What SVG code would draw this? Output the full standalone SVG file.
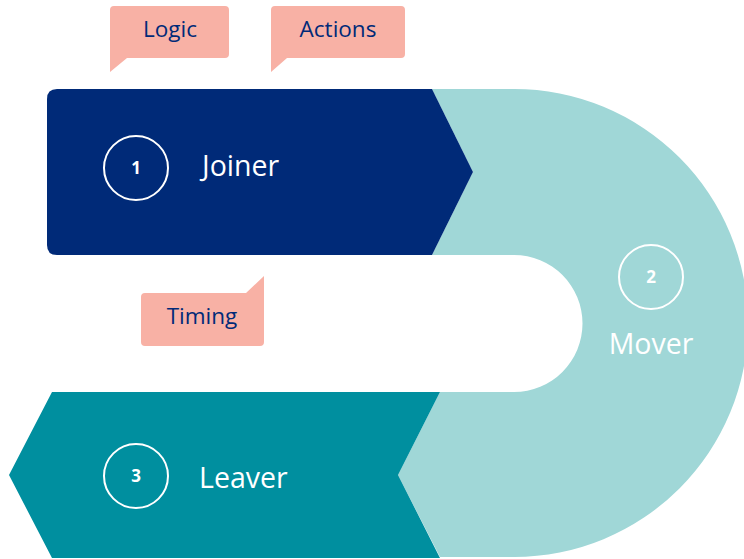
<svg xmlns="http://www.w3.org/2000/svg" width="744" height="559" viewBox="0 0 744 559">
<style>
.lbl{font-family:"Open Sans","Liberation Sans",sans-serif;fill:#ffffff;font-size:28.5px}
.num{font-family:"Open Sans","Liberation Sans",sans-serif;fill:#ffffff;font-size:17px;font-weight:bold}
.ring{fill:none;stroke:#ffffff;stroke-width:2}
.call{fill:#F8B1A5}
.ctext{font-family:"Open Sans","Liberation Sans",sans-serif;fill:#002A78;font-size:22.5px}
</style>
<rect width="744" height="559" fill="#ffffff"/>
<g id="mover">
<path d="M432,89 H514 A234,234 0 0 1 514,557 H440 L398,475 L440,392 H514 A68.5,68.5 0 0 0 514,255 H432 L473,172 Z" fill="#A0D7D7"/>
<circle class="ring" cx="651" cy="277" r="32"/>
<text class="num" x="651" y="283" text-anchor="middle">2</text>
<text class="lbl" x="651" y="354" text-anchor="middle">Mover</text>
</g>
<g id="joiner">
<path d="M57,89 H432 L473,172 L432,255 H57 Q47,255 47,245 V99 Q47,89 57,89 Z" fill="#002A78"/>
<circle class="ring" cx="136" cy="168" r="32"/>
<text class="num" x="136" y="174" text-anchor="middle">1</text>
<text class="lbl" x="202" y="176">Joiner</text>
</g>
<g id="leaver">
<path d="M52,392 H440 L398,475 L440,558 H52 L9,475 Z" fill="#008F9F"/>
<circle class="ring" cx="136" cy="476" r="32"/>
<text class="num" x="136" y="482" text-anchor="middle">3</text>
<text class="lbl" x="199" y="488">Leaver</text>
</g>
<g id="logic">
<path class="call" d="M114,6 H225 Q229,6 229,10 V54 Q229,58 225,58 H127 L110,72 V10 Q110,6 114,6 Z"/>
<text class="ctext" x="170" y="37" text-anchor="middle">Logic</text>
</g>
<g id="actions">
<path class="call" d="M275,6 H401 Q405,6 405,10 V54 Q405,58 401,58 H287 L271,72 V10 Q271,6 275,6 Z"/>
<text class="ctext" x="338" y="37" text-anchor="middle">Actions</text>
</g>
<g id="timing">
<path class="call" d="M145,293 H246 L264,276 V342 Q264,346 260,346 H145 Q141,346 141,342 V297 Q141,293 145,293 Z"/>
<text class="ctext" x="202" y="324" text-anchor="middle">Timing</text>
</g>
<g id="connectors"/>
</svg>
